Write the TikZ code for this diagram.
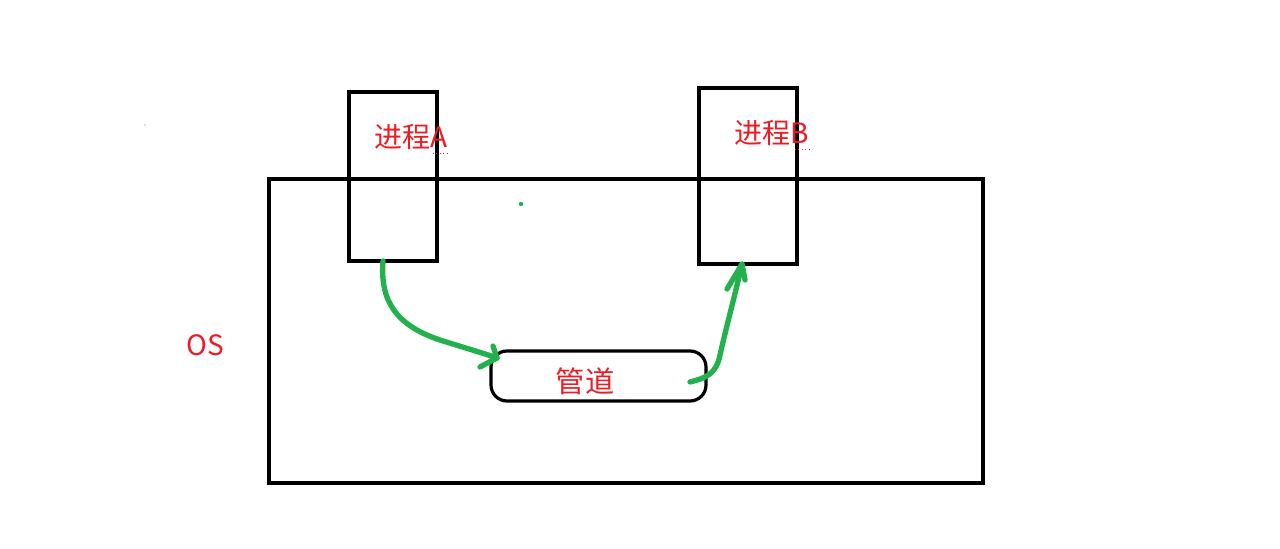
\documentclass[tikz,border=0pt]{standalone}
\usepackage{fontspec}
\setmainfont{Noto Sans CJK SC}
\definecolor{pgreen}{RGB}{34,177,76}
\definecolor{pred}{RGB}{237,28,36}
\begin{document}
\begin{tikzpicture}[x=0.75pt,y=-0.75pt,
  box/.style={draw=black,line width=2.4pt,inner sep=0pt,outer sep=0pt},
  lbl/.style={text=pred,font=\fontsize{21}{24}\selectfont,inner sep=0pt,anchor=center},
  garrow/.style={draw=pgreen,line width=4pt,line cap=round,line join=round}]
\useasboundingbox (0,0) rectangle (1280,549);
\fill[white] (0,0) rectangle (1280,549);
% OS box
\node[box,minimum width=535.5pt,minimum height=228pt] (os) at (626,331) {};
% process boxes
\node[box,minimum width=66pt,minimum height=126.75pt] (pra) at (393,176.5) {};
\node[box,minimum width=73.5pt,minimum height=132pt] (prb) at (748,176) {};
% pipe
\node[box,rounded corners=12pt,minimum width=161.25pt,minimum height=37.5pt] (pipe) at (598.5,376) {};
% connector ends
\coordinate (pa) at ([xshift=-7.5pt]pra.south);
\coordinate (pb) at ([xshift=-4.5pt]prb.south);
\coordinate (pw) at ([xshift=4.5pt,yshift=13.5pt]pipe.west);
\coordinate (pe) at ([xshift=-12pt,yshift=-4.5pt]pipe.east);
% labels
\node[lbl] (ta) at (411,137) {进程A};
\node[lbl] (tb) at (772,133) {进程B};
\node[lbl,font=\fontsize{22}{24}\selectfont] (tp) at (585,381) {管道};
\node[lbl] (tos) at (205,345) {OS};
\draw[pred,dotted,line width=0.6pt] (433,153) -- (450,153);
\draw[pred,dotted,line width=0.6pt] (795,149) -- (812,149);
% green arrows
\draw[garrow] (pa) .. controls (380,300) and (395,325) .. (440,340)
  .. controls (465,348) and (480,352) .. (pw);
\draw[garrow] (493,346) -- (pw) -- (480,367);
\draw[garrow] (pe) .. controls (705,378) and (716,375) .. (720,355)
  .. controls (728,320) and (735,295) .. (pb);
\draw[garrow] (727,289) -- (pb) -- (745,280);
% dots
\fill[pgreen] (521,204) circle (2.2);
\fill[gray] (145,125) circle (0.7);
\end{tikzpicture}
\end{document}
